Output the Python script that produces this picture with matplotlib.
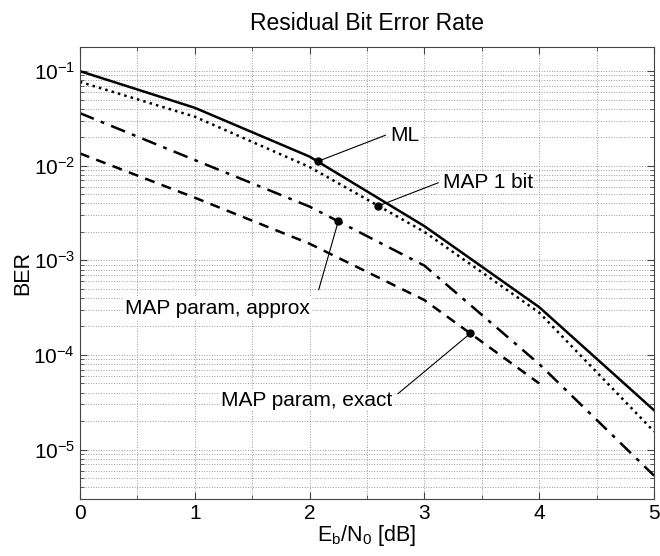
import numpy as np
import matplotlib
matplotlib.use("Agg")
import matplotlib.pyplot as plt
from matplotlib.ticker import LogLocator, LogFormatterMathtext, MultipleLocator, NullFormatter

plt.rcParams['font.family'] = ['Liberation Sans', 'DejaVu Sans']
plt.rcParams['mathtext.fontset'] = 'custom'
plt.rcParams['mathtext.rm'] = 'Liberation Sans'
plt.rcParams['mathtext.it'] = 'Liberation Sans:italic'

# Eb/N0 [dB] and residual BER
snr = [0, 1, 2, 3, 4, 5]
ber_ml = [0.1, 0.041, 0.0125, 0.0023, 3.2e-4, 2.6e-5]
ber_map1 = [0.077, 0.033, 0.0097, 0.0020, 2.8e-4, 1.55e-5]
ber_approx = [0.036, 0.0115, 0.0037, 8.8e-4, 8.0e-5, 5.3e-6]
snr_exact = [0, 1, 2, 3, 4]
ber_exact = [0.0135, 0.0046, 0.0015, 3.8e-4, 5.0e-5]

# labels: (text, marker x on curve, text position, alignment)
labels = ["ML", "MAP 1 bit", "MAP param, approx", "MAP param, exact"]
mark_x = [2.07, 2.60, 2.25, 3.40]
text_xy = [(2.70, 0.021), (3.16, 0.0066), (1.20, 3.1e-4), (2.72, 3.3e-5)]
text_ha = ["left", "left", "center", "right"]

fig = plt.figure(figsize=(6.6, 5.56), dpi=100)
ax = fig.add_axes([0.121, 0.1025, 0.870, 0.813])

lw = 1.8
ax.semilogy(snr, ber_ml, 'k-', linewidth=lw)
ax.semilogy(snr, ber_map1, 'k:', linewidth=lw)
ax.semilogy(snr, ber_approx, color='k', linestyle=(0, (6, 3, 1.5, 3)), linewidth=lw)
ax.semilogy(snr_exact, ber_exact, color='k', linestyle=(0, (4, 3)), linewidth=lw)

# point on each curve that the label arrow points to
curves = [(snr, ber_ml), (snr, ber_map1), (snr, ber_approx), (snr_exact, ber_exact)]
for (xs, ys), lab, mx, txy, ha in zip(curves, labels, mark_x, text_xy, text_ha):
    my = 10 ** np.interp(mx, xs, np.log10(ys))
    ax.plot(mx, my, 'ko', markersize=5)
    if ha == "left":
        end = (txy[0] - 0.04, txy[1])
    elif ha == "right":
        end = (txy[0] + 0.05, txy[1] * 1.18)
    else:
        end = (2.08, 4.9e-4)
    ax.plot([mx, end[0]], [my, end[1]], color='k', linewidth=0.8)
    ax.text(txy[0], txy[1], lab, ha=ha, va='center', fontsize=15,
            bbox=dict(facecolor='white', edgecolor='none', pad=1))

ax.set_xlim(0, 5)
ax.set_ylim(3.0e-6, 0.18)
ax.xaxis.set_major_locator(MultipleLocator(1))
ax.xaxis.set_minor_locator(MultipleLocator(0.5))
ax.yaxis.set_major_locator(LogLocator(base=10))
ax.yaxis.set_major_formatter(LogFormatterMathtext())
ax.yaxis.set_minor_locator(LogLocator(base=10, subs=np.arange(2, 10)))
ax.yaxis.set_minor_formatter(NullFormatter())

ax.grid(True, which='both', axis='both', linestyle=':', color='#999999', linewidth=0.7)
ax.set_axisbelow(True)
ax.tick_params(which='both', direction='in', top=True, right=True, labelsize=15, color='#444444')
ax.tick_params(which='major', length=5)
ax.tick_params(which='minor', length=3)
for s in ax.spines.values():
    s.set_color('#444444')

ax.set_title("Residual Bit Error Rate", fontsize=16.5, pad=12)
ax.set_xlabel(r"$\mathrm{E_b/N_0}$ [dB]", fontsize=15.5, labelpad=0)
ax.set_ylabel("BER", fontsize=15.5, labelpad=0)

fig.savefig("out.png", dpi=100)
